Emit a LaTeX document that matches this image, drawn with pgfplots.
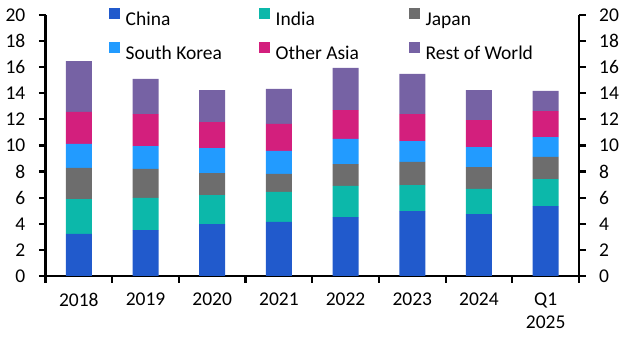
\documentclass[border=0pt]{standalone}
\usepackage{fontspec}
\setmainfont{Carlito}
\usepackage{pgfplots}
\pgfplotsset{compat=1.18}
\definecolor{cChina}{RGB}{33,90,204}
\definecolor{cIndia}{RGB}{12,184,170}
\definecolor{cJapan}{RGB}{109,109,109}
\definecolor{cKorea}{RGB}{34,155,255}
\definecolor{cOther}{RGB}{211,31,125}
\definecolor{cRow}{RGB}{118,98,164}
\newcommand{\LE}[1]{\makebox[139bp][l]{\hspace*{5.5bp}\strut #1}}
\begin{document}
\fontsize{19.5bp}{23bp}\selectfont
\begin{tikzpicture}
\path[use as bounding box] (0,0) rectangle (630bp,354bp);
\pgfplotsset{
  common/.style={
    at={(45.5bp,78bp)}, anchor=south west,
    scale only axis, width=533.5bp, height=261bp,
    xmin=-0.5, xmax=7.5, ymin=0, ymax=20,
    ytick={0,2,...,20},
    tick align=outside,
    major tick length=6.5bp,
    minor tick length=6.5bp,
    axis line style={line width=2.2bp,-},
    every tick/.style={line width=2.2bp, black},
    /pgf/number format/assume math mode=true,
    ticklabel style={font=\fontsize{19.5bp}{23bp}\selectfont},
  }
}
\begin{axis}[common,
  axis x line*=bottom, axis y line*=left,
  ybar stacked, bar width=0.39,
  xtick={0,...,7},
  xticklabels={2018,2019,2020,2021,2022,2023,2024,{Q1\\2025}},
  xticklabel style={align=center, yshift=-4bp},
  yticklabel style={xshift=-7bp},
  major x tick style={draw=none},
  minor xtick={-0.5,0.5,...,7.5},
  legend columns=3,
  legend image code/.code={\fill[#1] (0bp,0bp) rectangle (11bp,11bp);},
  legend style={draw=none, fill=none, inner sep=0pt, row sep=13bp,
    at={(0.119,1.027)}, anchor=north west,
    nodes={inner sep=0pt, font=\fontsize{19.5bp}{23bp}\selectfont}},
]
\addplot[fill=cChina, draw=none] coordinates {(0,3.22) (1,3.52) (2,3.98) (3,4.14) (4,4.52) (5,4.98) (6,4.75) (7,5.36)};
\addlegendentry{\LE{China}}
\addplot[fill=cIndia, draw=none] coordinates {(0,2.68) (1,2.46) (2,2.22) (3,2.30) (4,2.38) (5,1.99) (6,1.92) (7,2.07)};
\addlegendentry{\LE{India}}
\addplot[fill=cJapan, draw=none] coordinates {(0,2.38) (1,2.22) (2,1.69) (3,1.38) (4,1.68) (5,1.77) (6,1.68) (7,1.69)};
\addlegendentry{\LE{Japan}}
\addplot[fill=cKorea, draw=none] coordinates {(0,1.84) (1,1.76) (2,1.91) (3,1.76) (4,1.92) (5,1.60) (6,1.53) (7,1.53)};
\addlegendentry{\LE{South Korea}}
\addplot[fill=cOther, draw=none] coordinates {(0,2.45) (1,2.45) (2,2.00) (3,2.07) (4,2.22) (5,2.07) (6,2.07) (7,1.99)};
\addlegendentry{\LE{Other Asia}}
\addplot[fill=cRow, draw=none] coordinates {(0,3.90) (1,2.69) (2,2.45) (3,2.68) (4,3.22) (5,3.07) (6,2.30) (7,1.54)};
\addlegendentry{\LE{Rest of World}}
\end{axis}
\begin{axis}[common,
  axis x line=none, axis y line*=right,
  yticklabel style={xshift=7bp},
]
\end{axis}
\end{tikzpicture}
\end{document}
